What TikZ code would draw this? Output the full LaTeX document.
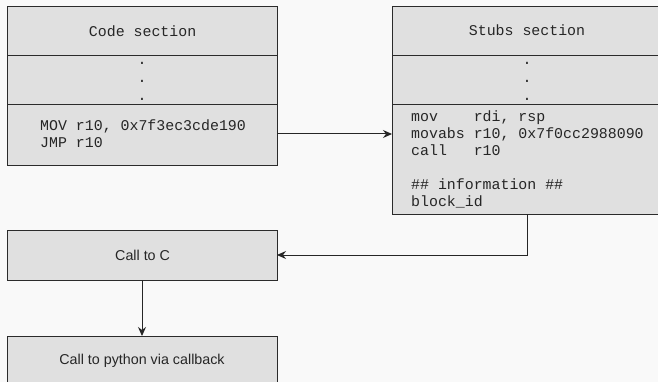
\documentclass[tikz,border=0pt]{standalone}
\usepackage{fontspec}
\setmainfont{Liberation Sans}
\newfontfamily\codefont{Liberation Mono}
\usetikzlibrary{arrows.meta}
\definecolor{pagebg}{HTML}{F9F9F9}
\definecolor{boxfill}{HTML}{E0E0E0}
\definecolor{boxline}{HTML}{2B2B2B}
\tikzset{
  cell/.style={draw=boxline, fill=boxfill, line width=1.2pt, anchor=north west,
    inner sep=0pt, minimum width=#1},
  cell/.default=270pt,
  code/.style={font=\codefont\fontsize{14.9}{17}\selectfont, align=left,
    inner sep=0pt, anchor=west, text=black!85},
  dot/.style={font=\codefont\fontsize{14.9}{17}\selectfont, inner sep=0pt,
    anchor=base, text=black!85},
  label/.style={font=\fontsize{14.3}{16}\selectfont, text=black!85},
  link/.style={draw=black!85, line width=1pt, -{Stealth[length=9pt,width=8pt,inset=3pt]}}
}
\begin{document}
\begin{tikzpicture}[x=1pt,y=-1pt]
\fill[pagebg] (0,0) rectangle (658,382);
\useasboundingbox (0,0) rectangle (658,382);

% Code section
\node[cell, minimum height=49pt] (codehead) at (7,6) {};
\node[code, anchor=center] (codetitle) at (codehead.center) {Code section};
\node[cell, minimum height=49pt] (codemid) at (7,55) {};
\node[dot] (cd1) at (142,65) {.};
\node[dot] (cd2) at (142,83) {.};
\node[dot] (cd3) at (142,100.5) {.};
\node[cell, minimum height=61pt] (codebody) at (7,104) {};
\node[code] (codetext) at (40,134) {MOV r10, 0x7f3ec3cde190\\JMP r10};

% Stubs section (runs past the right edge)
\node[cell=280pt, minimum height=49pt] (stubhead) at (392,6) {};
\node[code, anchor=center] (stubtitle) at (527,30.5) {Stubs section};
\node[cell=280pt, minimum height=49pt] (stubmid) at (392,55) {};
\node[dot] (sd1) at (527,65) {.};
\node[dot] (sd2) at (527,83) {.};
\node[dot] (sd3) at (527,100.5) {.};
\node[cell=280pt, minimum height=110pt] (stubbody) at (392,104) {};
\node[code] (stubtext) at (411,159) {mov\ \ \ \ rdi, rsp\\movabs r10, 0x7f0cc2988090\\call\ \ \ r10\\\strut\\\#\# information \#\#\\block\_id};

% Call boxes
\node[cell, minimum height=50pt] (callc) at (7,230) {};
\node[label] at (callc.center) (callctext) {Call to C};
\node[cell, minimum height=60pt] (callpy) at (7,336) {};
\node[label] (callpytext) at (142,361) {Call to python via callback};

% Connectors
\coordinate (stubout) at (527,214);
\coordinate (bend) at (527,255);
\coordinate (callcin) at (277,255);
\draw[link] (277,134) -- (392,134);
\draw[link] (stubout) -- (bend) -- (callcin);
\draw[link] (142,280) -- (142,336);
\end{tikzpicture}
\end{document}
